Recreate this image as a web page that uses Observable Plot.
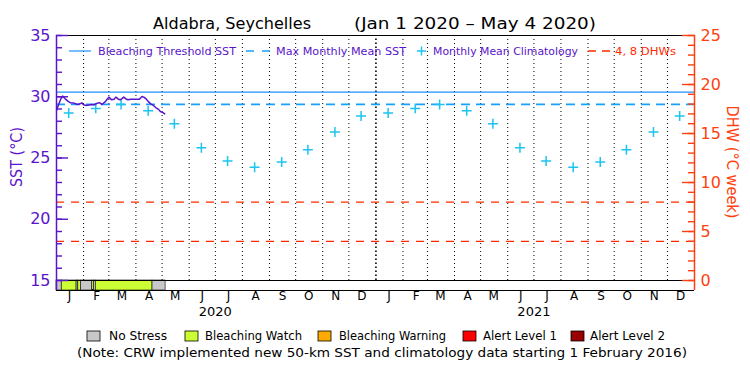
<!DOCTYPE html>
<html>
<head>
<meta charset="utf-8">
<script src="https://cdn.jsdelivr.net/npm/d3@7"></script>
<script src="https://cdn.jsdelivr.net/npm/@observablehq/plot@0.6"></script>
<style>
html,body{margin:0;padding:0;background:#fff;}
#chart{width:750px;height:375px;}
</style>
</head>
<body>
<div id="chart"></div>
<script>
// ---------------- data ----------------
const siteName = "Aldabra, Seychelles";
const periodLabel = "(Jan 1 2020 – May 4 2020)";

const sstDates = ["2020-01-01","2020-01-03","2020-01-06","2020-01-08","2020-01-11","2020-01-14","2020-01-17","2020-01-21","2020-01-25","2020-01-28","2020-01-30","2020-02-01","2020-02-04","2020-02-07","2020-02-10","2020-02-13","2020-02-16","2020-02-19","2020-02-22","2020-02-26","2020-02-28","2020-03-01","2020-03-04","2020-03-07","2020-03-09","2020-03-12","2020-03-14","2020-03-16","2020-03-18","2020-03-21","2020-03-23","2020-03-26","2020-03-29","2020-04-02","2020-04-05","2020-04-08","2020-04-10","2020-04-13","2020-04-15","2020-04-18","2020-04-21","2020-04-24","2020-04-27","2020-04-29","2020-05-02","2020-05-04"];
const sstValues = [28.88,29.29,29.83,30.05,29.83,29.64,29.50,29.48,29.37,29.42,29.50,29.35,29.29,29.32,29.37,29.35,29.45,29.52,29.37,29.60,29.80,29.97,29.75,29.80,29.97,29.80,29.75,29.85,29.97,29.80,29.75,29.80,29.80,29.80,29.80,30.02,29.97,29.80,29.62,29.42,29.29,29.10,28.97,28.80,28.70,28.60];

const monthLetters = ["J","F","M","A","M","J","J","A","S","O","N","D"];
const climValues = [28.68,29.05,29.37,28.86,27.80,25.83,24.75,24.25,24.68,25.67,27.12,28.43];
const years = [2020, 2021];

const maxMonthlyMean = 29.37;
const bleachingThreshold = 30.37;
const dhwLevels = [4, 8];

const stressStart = ["2020-01-01","2020-01-07","2020-01-24","2020-01-26","2020-01-29","2020-02-11","2020-02-13","2020-02-15","2020-04-20"];
const stressEnd   = ["2020-01-07","2020-01-24","2020-01-26","2020-01-29","2020-02-11","2020-02-13","2020-02-15","2020-04-20","2020-05-05"];
const stressLevel = [0,1,0,1,0,1,0,1,0];

const stressNames  = ["No Stress","Bleaching Watch","Bleaching Warning","Alert Level 1","Alert Level 2"];
const stressColors = ["#c8c8c8","#ccff33","#ffaa00","#ff0000","#990000"];

const sstMajorTicks = [15,20,25,30,35];
const dhwMajorTicks = [0,5,10,15,20,25];
const sstAxisLabel = "SST (°C)";
const dhwAxisLabel = "DHW (°C week)";
const legendLabels = ["Bleaching Threshold SST","Max Monthly Mean SST","Monthly Mean Climatology","4, 8 DHWs"];
const noteText = "(Note: CRW implemented new 50-km SST and climatology data starting 1 February 2016)";

// ---------------- colours ----------------
const purple = "#5a14cc";
const orange = "#ff3f0f";
const blueSolid = "#1e90ff";
const blueDash = "#18a0ff";
const cyan = "#1cc4f0";
const dhwRed = "#ff2a00";

// ---------------- derived ----------------
const parse = d3.utcParse("%Y-%m-%d");
const xStart = new Date(Date.UTC(2020,0,1));
const xEnd = new Date(Date.UTC(2022,0,1));
const dhwToSst = v => 15 + v * (35 - 15) / 25;   // right axis shares the frame: 0..25 DHW <-> 15..35 °C
const barBottom = 15 - 10 * 20 / 245;           // 10px stress strip under the 15 °C line

const sstData = sstDates.map((d,i) => ({date: parse(d), sst: sstValues[i]}));
const climData = years.flatMap(y => climValues.map((v,m) => ({date: new Date(Date.UTC(y,m,15)), sst: v})));
const monthData = years.flatMap(y => monthLetters.map((l,m) => ({date: new Date(Date.UTC(y,m,16)), label: l})));
const yearData = years.map(y => ({date: new Date(Date.UTC(y,6,1)), label: String(y)}));
const stressData = stressStart.map((s,i) => ({start: parse(s), end: parse(stressEnd[i]), color: stressColors[stressLevel[i]]}));
const monthBounds = d3.utcMonth.range(new Date(Date.UTC(2020,1,1)), xEnd);
const yearBounds = monthBounds.filter(d => d.getUTCMonth() === 0);
const otherBounds = monthBounds.filter(d => d.getUTCMonth() !== 0);

const sstMinor = d3.range(15, 36);
const dhwMinor = d3.range(0, 26).map(dhwToSst);

const plot = Plot.plot({
  width: 750,
  height: 375,
  marginLeft: 56,
  marginRight: 56,
  marginTop: 35,
  marginBottom: 85,
  style: {fontFamily: "'DejaVu Sans', sans-serif", fontSize: "12px", background: "#fff"},
  x: {type: "utc", domain: [xStart, xEnd], axis: null},
  y: {domain: [barBottom, 35]},
  marks: [
    Plot.rect(stressData, {x1: "start", x2: "end", y1: barBottom, y2: 15, fill: "color", stroke: "black", strokeWidth: 0.6}),
    Plot.ruleX(otherBounds, {y1: 15, y2: 35, stroke: "black", strokeWidth: 1, strokeDasharray: "1,3"}),
    Plot.ruleX(yearBounds, {y1: 15, y2: 35, stroke: "black", strokeWidth: 1.6, strokeDasharray: "1.5,2.5"}),
    Plot.ruleY(dhwLevels, {y: dhwToSst, stroke: dhwRed, strokeWidth: 1.2, strokeDasharray: "8,7"}),
    Plot.ruleY([maxMonthlyMean], {stroke: blueDash, strokeWidth: 1.8, strokeDasharray: "9,6"}),
    Plot.ruleY([bleachingThreshold], {stroke: blueSolid, strokeWidth: 1.2}),
    Plot.ruleY([35, 15, barBottom], {stroke: "black", strokeWidth: 1.2}),
    Plot.dot(climData, {x: "date", y: "sst", symbol: "plus", r: 3.3, stroke: cyan, strokeWidth: 1.5}),
    Plot.line(sstData, {x: "date", y: "sst", stroke: purple, strokeWidth: 1.5}),
    Plot.ruleX([xStart], {y1: barBottom, y2: 35, stroke: purple, strokeWidth: 1.5}),
    Plot.ruleX([xEnd], {y1: barBottom, y2: 35, stroke: orange, strokeWidth: 1.5}),
    // left axis
    Plot.axisY(sstMinor, {anchor: "left", tickSize: -6, stroke: purple, fill: "none", strokeWidth: 1.4, label: null}),
    Plot.axisY(sstMajorTicks, {anchor: "left", tickSize: -12, stroke: purple, fill: "none", strokeWidth: 1.4, label: null}),
    Plot.axisY(sstMajorTicks, {anchor: "left", tickSize: 0, tickPadding: 6, fill: purple, fontSize: 16, label: null}),
    // right axis
    Plot.axisY(dhwMinor, {anchor: "right", tickSize: -7, stroke: orange, fill: "none", strokeWidth: 1.4, label: null}),
    Plot.axisY(dhwMajorTicks.map(dhwToSst), {anchor: "right", tickSize: -13, stroke: orange, fill: "none", strokeWidth: 1.4, label: null}),
    Plot.axisY(dhwMajorTicks.map(dhwToSst), {anchor: "right", tickSize: 0, tickPadding: 6, fill: orange, fontSize: 16, label: null,
      tickFormat: d => String(Math.round((d - 15) * 25 / 20))}),
    // month / year labels
    Plot.text(monthData, {x: "date", text: "label", frameAnchor: "bottom", dy: 9, fontSize: 12, fill: "black"}),
    Plot.text(yearData, {x: "date", text: "label", frameAnchor: "bottom", dy: 25, fontSize: 13, fill: "black"})
  ]
});

document.getElementById("chart").appendChild(plot);

// ---------------- annotations ----------------
const svg = d3.select(plot);
const font = "'DejaVu Sans', sans-serif";
function txt(x, y, s, {size = 12, fill = "black", len = null, anchor = "start", rotate = 0} = {}) {
  const t = svg.append("text").attr("x", x).attr("y", y).text(s)
    .attr("font-family", font).attr("font-size", size).attr("fill", fill)
    .attr("text-anchor", anchor);
  if (len) t.attr("textLength", len).attr("lengthAdjust", "spacingAndGlyphs");
  if (rotate) t.attr("transform", `rotate(${rotate},${x},${y})`).attr("dominant-baseline", "middle");
  return t;
}

// title
txt(153, 29, siteName, {size: 15, len: 158});
txt(354, 29, periodLabel, {size: 15, len: 242});

// axis titles
txt(17, 157, sstAxisLabel, {size: 15, fill: purple, anchor: "middle", rotate: -90, len: 60});
txt(731, 162, dhwAxisLabel, {size: 15, fill: orange, anchor: "middle", rotate: 90, len: 113});

// inner legend
svg.append("line").attr("x1", 69).attr("x2", 91).attr("y1", 51).attr("y2", 51).attr("stroke", blueSolid).attr("stroke-width", 1.2);
txt(98, 55, legendLabels[0], {size: 11, fill: purple, len: 138});
svg.append("line").attr("x1", 246).attr("x2", 270).attr("y1", 51).attr("y2", 51).attr("stroke", blueDash).attr("stroke-width", 1.5).attr("stroke-dasharray", "8,8");
txt(276, 55, legendLabels[1], {size: 11, fill: purple, len: 130});
svg.append("path").attr("d", "M417,51h9M421.5,46.5v9").attr("stroke", cyan).attr("stroke-width", 1.5);
txt(433, 55, legendLabels[2], {size: 11, fill: purple, len: 145});
svg.append("line").attr("x1", 588).attr("x2", 610).attr("y1", 51).attr("y2", 51).attr("stroke", dhwRed).attr("stroke-width", 1.5).attr("stroke-dasharray", "8,6");
txt(615, 55, legendLabels[3], {size: 11, fill: dhwRed, len: 61});

// bottom stress legend
const boxX = [87, 185, 318, 463, 571];
const textX = [109, 205, 339, 483, 590];
const textLen = [58, 97, 107, 74, 75];
stressNames.forEach((name, i) => {
  svg.append("rect").attr("x", boxX[i]).attr("y", 331).attr("width", 13).attr("height", 10)
    .attr("fill", stressColors[i]).attr("stroke", "black").attr("stroke-width", 0.8);
  txt(textX[i], 340, name, {size: 12, len: textLen[i]});
});
txt(77, 357, noteText, {size: 12, len: 610});
</script>
</body>
</html>
